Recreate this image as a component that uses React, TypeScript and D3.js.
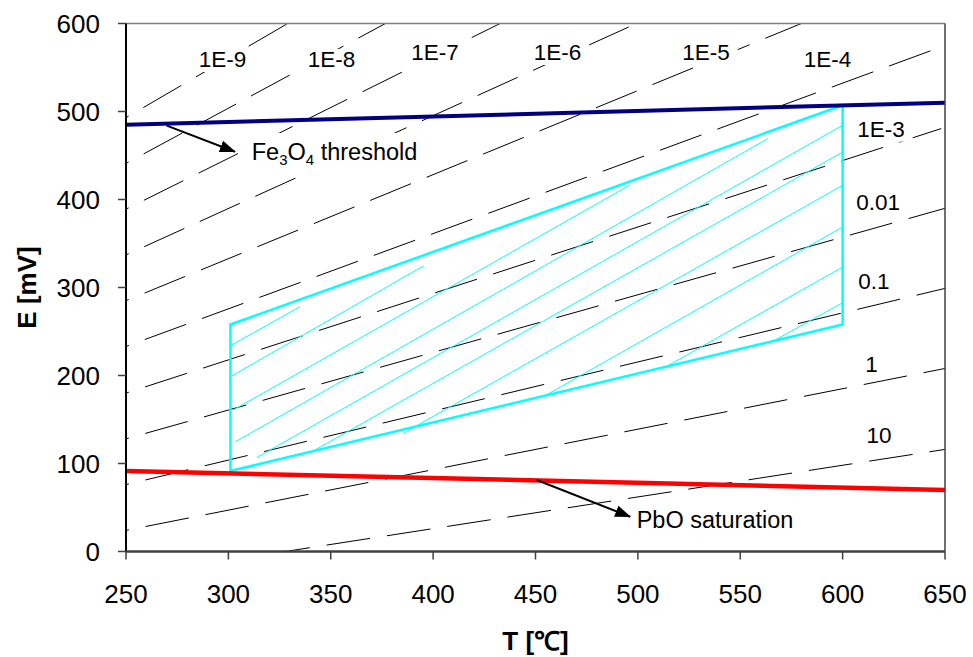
import React, { useEffect, useRef } from "react";
import * as d3 from "d3";

const W = 973;
const H = 657;

// Axis ticks
const xTicks = [250, 300, 350, 400, 450, 500, 550, 600, 650];
const yTicks = [0, 100, 200, 300, 400, 500, 600];

// Iso-concentration dashed lines: E [mV] read at T = 250 and T = 650 °C
const isoLabels = ["10", "1", "0.1", "0.01", "1E-3", "1E-4", "1E-5", "1E-6", "1E-7", "1E-8", "1E-9"];
const isoE250 = [-28, 24, 76, 128, 180, 233, 285, 337, 389, 441, 493];
const isoE650 = [116, 208, 299, 390, 482, 575, 667, 759, 851, 943, 1035];
// label anchor (T, E) for each iso line label
const isoLabelT = [617.8, 614.1, 615.3, 617.3, 618.7, 592.6, 533.3, 460.7, 400.9, 350.4, 297.1];
const isoLabelE = [123, 204.3, 298.3, 388.1, 471.4, 550.9, 558.5, 558.5, 558.5, 550.6, 550.6];

// Threshold lines
const fe3o4T = [250, 650];
const fe3o4E = [485, 510];
const pboT = [250, 650];
const pboE = [91.5, 70];

// Operating window outline
const regionT = [301, 301, 600, 600];
const regionE = [91.5, 258, 507, 258];

// Hatch lines inside the window (start / end points)
const hatchT1 = [301.6, 301.6, 302.4, 303.2, 313.8, 342.3, 385.4, 453.8, 512.4, 567.0];
const hatchE1 = [234.7, 199.4, 160.8, 124.4, 106.6, 115.3, 134.3, 175.9, 208.2, 240.3];
const hatchT2 = [335.0, 395.2, 496.2, 563.7, 600.3, 600.3, 600.3, 600.3, 600.3, 600.3];
const hatchE2 = [278.2, 324.4, 416.5, 469.5, 484.7, 454.3, 416.5, 369.1, 323.6, 283.0];

// Annotations
const feArrowT = [269.9, 303.2];
const feArrowE = [483.9, 454.3];
const feLabelT = 311.4;
const feLabelE = 444.9;
const pbArrowT = [450.6, 496.2];
const pbArrowE = [81.3, 39.5];
const pbLabelT = 499.4;
const pbLabelE = 26.4;

export default function App() {
  const ref = useRef<SVGSVGElement>(null);

  useEffect(() => {
    const svg = d3.select(ref.current as SVGSVGElement);
    svg.selectAll("*").remove();
    const font = "Arial, 'Liberation Sans', Helvetica, sans-serif";

    const x = d3.scaleLinear().domain([250, 650]).range([126, 945]);
    const y = d3.scaleLinear().domain([0, 600]).range([551.5, 23.5]);
    const [x0, x1] = x.range();
    const [y0, y1] = y.range();

    const defs = svg.append("defs");
    defs
      .append("clipPath")
      .attr("id", "plotClip")
      .append("rect")
      .attr("x", x0)
      .attr("y", y1)
      .attr("width", x1 - x0)
      .attr("height", y0 - y1);
    defs
      .append("marker")
      .attr("id", "arrowHead")
      .attr("viewBox", "0 0 16 12")
      .attr("refX", 15)
      .attr("refY", 6)
      .attr("markerUnits", "userSpaceOnUse")
      .attr("markerWidth", 16)
      .attr("markerHeight", 12)
      .attr("orient", "auto")
      .append("path")
      .attr("d", "M0,0 L16,6 L0,12 Z")
      .attr("fill", "#000");

    svg.append("rect").attr("width", W).attr("height", H).attr("fill", "#fff");

    const line = d3
      .line<[number, number]>()
      .x((d) => x(d[0]))
      .y((d) => y(d[1]));

    const plot = svg.append("g").attr("clip-path", "url(#plotClip)");

    // dashed iso lines
    isoLabels.forEach((_, i) => {
      plot
        .append("path")
        .attr("d", line([[250, isoE250[i]], [650, isoE650[i]]]))
        .attr("fill", "none")
        .attr("stroke", "#000")
        .attr("stroke-width", 1)
        .attr("stroke-dasharray", "44 17")
        .attr("stroke-dashoffset", 41);
    });

    // hatch
    hatchT1.forEach((_, i) => {
      plot
        .append("path")
        .attr("d", line([[hatchT1[i], hatchE1[i]], [hatchT2[i], hatchE2[i]]]))
        .attr("fill", "none")
        .attr("stroke", "#00FFFF")
        .attr("stroke-width", 1);
    });

    // outline
    const poly = regionT.map((t, i) => [t, regionE[i]] as [number, number]);
    plot
      .append("path")
      .attr("d", line(poly) + "Z")
      .attr("fill", "none")
      .attr("stroke", "#00FFFF")
      .attr("stroke-width", 2.5)
      .attr("stroke-linejoin", "miter");

    // threshold lines
    plot
      .append("path")
      .attr("d", line(fe3o4T.map((t, i) => [t, fe3o4E[i]] as [number, number])))
      .attr("fill", "none")
      .attr("stroke", "#000080")
      .attr("stroke-width", 4);
    plot
      .append("path")
      .attr("d", line(pboT.map((t, i) => [t, pboE[i]] as [number, number])))
      .attr("fill", "none")
      .attr("stroke", "#FF0000")
      .attr("stroke-width", 4.5);

    // iso labels with white boxes
    const labG = svg.append("g");
    isoLabels.forEach((lab, i) => {
      const g = labG.append("g");
      const rect = g.append("rect").attr("fill", "#fff");
      const txt = g
        .append("text")
        .attr("x", x(isoLabelT[i]))
        .attr("y", y(isoLabelE[i]))
        .attr("text-anchor", "middle")
        .attr("font-family", font)
        .attr("font-size", 22.5)
        .attr("fill", "#000")
        .text(lab);
      const bb = (txt.node() as SVGTextElement).getBBox();
      rect
        .attr("x", bb.x - 8)
        .attr("y", bb.y + 2)
        .attr("width", bb.width + 16)
        .attr("height", bb.height - 2);
    });

    // Fe3O4 label
    {
      const g = svg.append("g");
      const rect = g.append("rect").attr("fill", "#fff");
      const t = g
        .append("text")
        .attr("x", x(feLabelT))
        .attr("y", y(feLabelE))
        .attr("font-family", font)
        .attr("font-size", 23.5)
        .attr("fill", "#000");
      t.append("tspan").text("Fe");
      t.append("tspan").attr("dy", 5).attr("font-size", 15).text("3");
      t.append("tspan").attr("dy", -5).text("O");
      t.append("tspan").attr("dy", 5).attr("font-size", 15).text("4");
      t.append("tspan").attr("dy", -5).text(" threshold");
      const bb = (t.node() as SVGTextElement).getBBox();
      rect
        .attr("x", bb.x - 4)
        .attr("y", bb.y - 6)
        .attr("width", bb.width + 8)
        .attr("height", bb.height + 10);
    }
    // PbO label
    svg
      .append("text")
      .attr("x", x(pbLabelT))
      .attr("y", y(pbLabelE))
      .attr("font-family", font)
      .attr("font-size", 23.5)
      .attr("fill", "#000")
      .text("PbO saturation");

    // arrows
    [
      [feArrowT, feArrowE],
      [pbArrowT, pbArrowE],
    ].forEach(([ts, es]) => {
      svg
        .append("path")
        .attr("d", line(ts.map((t, i) => [t, es[i]] as [number, number])))
        .attr("fill", "none")
        .attr("stroke", "#000")
        .attr("stroke-width", 2)
        .attr("marker-end", "url(#arrowHead)");
    });

    // plot border (top/right)
    svg
      .append("line")
      .attr("x1", x0)
      .attr("x2", x1)
      .attr("y1", y1)
      .attr("y2", y1)
      .attr("stroke", "#808080")
      .attr("stroke-width", 1.5);
    svg
      .append("line")
      .attr("x1", x1)
      .attr("x2", x1)
      .attr("y1", y1)
      .attr("y2", y0)
      .attr("stroke", "#404040")
      .attr("stroke-width", 1.5);

    // y axis
    const yAxis = svg.append("g");
    yAxis
      .append("line")
      .attr("x1", x0)
      .attr("x2", x0)
      .attr("y1", y1)
      .attr("y2", y0)
      .attr("stroke", "#000")
      .attr("stroke-width", 2);
    yTicks.forEach((v) => {
      yAxis
        .append("line")
        .attr("x1", x0 - 8)
        .attr("x2", x0)
        .attr("y1", y(v))
        .attr("y2", y(v))
        .attr("stroke", "#404040")
        .attr("stroke-width", 1.5);
      yAxis
        .append("text")
        .attr("x", x0 - 26)
        .attr("y", y(v))
        .attr("dy", "0.36em")
        .attr("text-anchor", "end")
        .attr("font-family", font)
        .attr("font-size", 26)
        .attr("fill", "#000")
        .text(String(v));
    });

    // x axis
    const xAxis = svg.append("g");
    xAxis
      .append("line")
      .attr("x1", x0)
      .attr("x2", x1)
      .attr("y1", y0)
      .attr("y2", y0)
      .attr("stroke", "#404040")
      .attr("stroke-width", 2.5);
    xTicks.forEach((v) => {
      xAxis
        .append("line")
        .attr("x1", x(v))
        .attr("x2", x(v))
        .attr("y1", y0)
        .attr("y2", y0 + 8)
        .attr("stroke", "#404040")
        .attr("stroke-width", 1.5);
      xAxis
        .append("text")
        .attr("x", x(v))
        .attr("y", 603)
        .attr("text-anchor", "middle")
        .attr("font-family", font)
        .attr("font-size", 26)
        .attr("fill", "#000")
        .text(String(v));
    });

    // axis titles
    svg
      .append("text")
      .attr("x", (x0 + x1) / 2)
      .attr("y", 650)
      .attr("text-anchor", "middle")
      .attr("font-family", font)
      .attr("font-size", 26)
      .attr("font-weight", "bold")
      .attr("fill", "#000")
      .text("T [℃]");
    svg
      .append("text")
      .attr("transform", `translate(36,${(y0 + y1) / 2}) rotate(-90)`)
      .attr("text-anchor", "middle")
      .attr("font-family", font)
      .attr("font-size", 26)
      .attr("font-weight", "bold")
      .attr("fill", "#000")
      .text("E [mV]");
  }, []);

  return (
    <svg
      ref={ref}
      width={W}
      height={H}
      style={{ position: "absolute", left: 0, top: 0, display: "block" }}
    />
  );
}
